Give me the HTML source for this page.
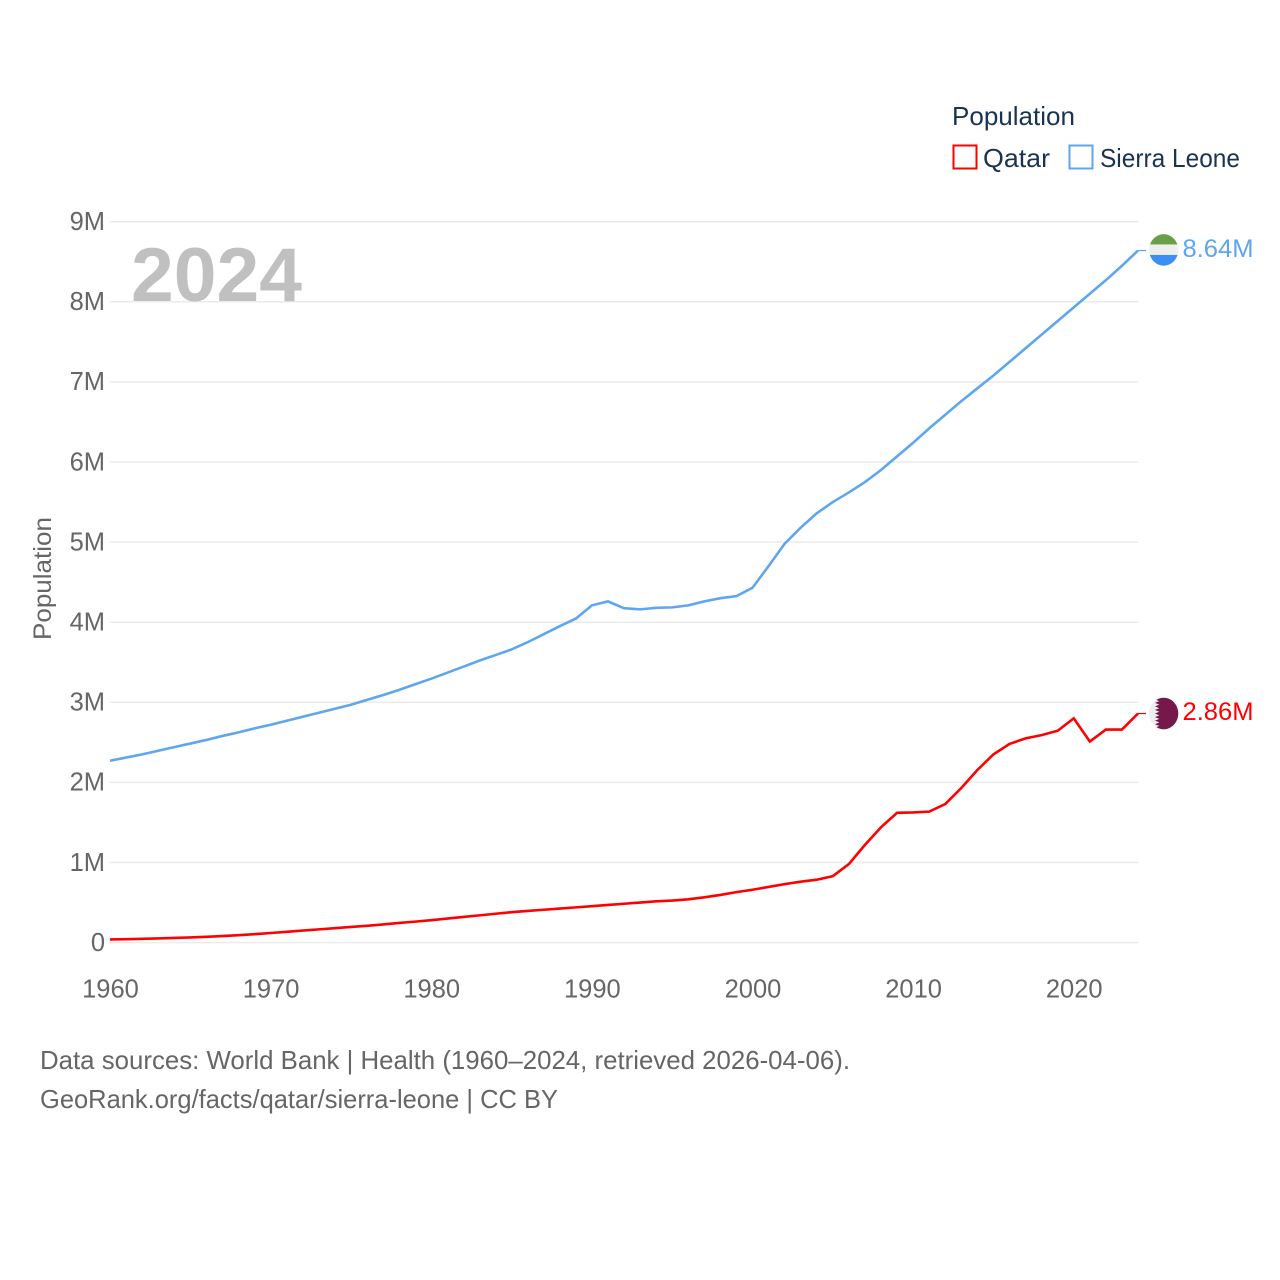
<!DOCTYPE html>
<html lang="en">
<head>
<meta charset="utf-8">
<title>Population: Qatar and Sierra Leone</title>
<style>
html,body{margin:0;padding:0;background:#fff;width:1280px;height:1280px;overflow:hidden}
svg{display:block}
text{font-family:"Liberation Sans",sans-serif}
</style>
</head>
<body>
<svg id="chart" xmlns="http://www.w3.org/2000/svg" width="1280" height="1280" viewBox="0 0 1280 1280">
  <rect x="0" y="0" width="1280" height="1280" fill="#ffffff"/>
  <defs>
    <clipPath id="flag-clip"><ellipse cx="0" cy="0" rx="14.6" ry="15.8"/></clipPath>
  </defs>
  <g id="grid"></g>
  <g id="y-ticks"></g>
  <g id="x-ticks"></g>
  <text x="131" y="301" font-size="76" font-weight="700" fill="#c0c0c0" textLength="171" lengthAdjust="spacingAndGlyphs">2024</text>
  <text transform="translate(51,640) rotate(-90)" font-size="25" fill="#666666" textLength="123" lengthAdjust="spacingAndGlyphs">Population</text>
  <g id="series"></g>

  <g id="flag-sierra-leone" clip-path="url(#flag-clip)">
    <rect x="-16" y="-17" width="32" height="12" fill="#6a9f4a"/>
    <rect x="-16" y="-5.5" width="32" height="11" fill="#eeeeee"/>
    <rect x="-16" y="5" width="32" height="12" fill="#3a8ff0"/>
  </g>
  <g id="flag-qatar" clip-path="url(#flag-clip)">
    <rect x="-16" y="-17" width="32" height="34" fill="#eeeeee"/>
    <polygon fill="#75184a" points="16,-16 -4.4,-16 -8.7,-14.2 -4.4,-12.4 -8.7,-10.7 -4.4,-8.9 -8.7,-7.1 -4.4,-5.3 -8.7,-3.6 -4.4,-1.8 -8.7,0 -4.4,1.8 -8.7,3.6 -4.4,5.3 -8.7,7.1 -4.4,8.9 -8.7,10.7 -4.4,12.4 -8.7,14.2 -4.4,16 16,16"/>
  </g>
  <g id="end-labels"></g>

  <g>
    <text x="952" y="125" font-size="26" fill="#1a3353" textLength="123" lengthAdjust="spacingAndGlyphs">Population</text>
    <g>
      <rect x="953.5" y="145.5" width="23" height="23" fill="none" stroke="#ff0000" stroke-width="2"/>
      <text x="983" y="167" font-size="26" fill="#1a3353" textLength="67" lengthAdjust="spacingAndGlyphs">Qatar</text>
    </g>
    <g>
      <rect x="1069.5" y="145.5" width="23" height="23" fill="none" stroke="#5ea6ee" stroke-width="2"/>
      <text x="1100" y="167" font-size="26" fill="#1a3353" textLength="140" lengthAdjust="spacingAndGlyphs">Sierra Leone</text>
    </g>
  </g>

  <g>
    <text x="40" y="1069" font-size="26" fill="#666666" textLength="810" lengthAdjust="spacingAndGlyphs">Data sources: World Bank | Health (1960–2024, retrieved 2026-04-06).</text>
    <text x="40" y="1108" font-size="26" fill="#666666" textLength="518" lengthAdjust="spacingAndGlyphs">GeoRank.org/facts/qatar/sierra-leone | CC BY</text>
  </g>
</svg>
<script>
const startYear = 1960;
const endYear = 2024;
const yTickValues = [0, 1, 2, 3, 4, 5, 6, 7, 8, 9];
const yTickLabels = ['0', '1M', '2M', '3M', '4M', '5M', '6M', '7M', '8M', '9M'];
const xTickYears = [1960, 1970, 1980, 1990, 2000, 2010, 2020];
const xTickLabels = ['1960', '1970', '1980', '1990', '2000', '2010', '2020'];

const qatarValues = [
  0.04, 0.043, 0.047, 0.052, 0.058, 0.065, 0.072, 0.081, 0.092, 0.105,
  0.12, 0.135, 0.15, 0.165, 0.18, 0.195, 0.21, 0.227, 0.245, 0.262,
  0.28, 0.30, 0.32, 0.34, 0.36, 0.38, 0.395, 0.41, 0.425, 0.44,
  0.455, 0.47, 0.485, 0.50, 0.515, 0.525, 0.54, 0.565, 0.595, 0.63,
  0.66, 0.695, 0.73, 0.76, 0.785, 0.83, 0.98, 1.22, 1.44, 1.62,
  1.625, 1.635, 1.73, 1.93, 2.155, 2.35, 2.48, 2.55, 2.59, 2.645,
  2.80, 2.51, 2.66, 2.66, 2.86
];
const sierraLeoneValues = [
  2.27, 2.31, 2.35, 2.395, 2.44, 2.485, 2.53, 2.58, 2.625, 2.675,
  2.72, 2.77, 2.82, 2.87, 2.92, 2.97, 3.03, 3.09, 3.155, 3.225,
  3.295, 3.37, 3.445, 3.52, 3.59, 3.66, 3.75, 3.85, 3.95, 4.045,
  4.21, 4.26, 4.175, 4.16, 4.18, 4.185, 4.21, 4.26, 4.30, 4.325,
  4.43, 4.70, 4.98, 5.18, 5.36, 5.50, 5.62, 5.75, 5.90, 6.07,
  6.24, 6.42, 6.59, 6.76, 6.92, 7.08, 7.25, 7.42, 7.59, 7.76,
  7.93, 8.10, 8.27, 8.45, 8.64
];
const qatarEndLabel = '2.86M';
const sierraLeoneEndLabel = '8.64M';

const SVG_NS = 'http://www.w3.org/2000/svg';
const xScale = function (year) {
  return 110 + (year - startYear) * (1138 - 110) / (endYear - startYear);
};
const yScale = function (value) {
  return 942.6 - value * 80.1;
};

const grid = document.getElementById('grid');
const yTicks = document.getElementById('y-ticks');
const xTicks = document.getElementById('x-ticks');
const series = document.getElementById('series');
const endLabels = document.getElementById('end-labels');

yTickValues.forEach(function (v, i) {
  const line = document.createElementNS(SVG_NS, 'line');
  
  
  line.setAttribute('x1', 110);
  line.setAttribute('x2', 1138.5);
  line.setAttribute('y1', yScale(v));
  line.setAttribute('y2', yScale(v));
  line.setAttribute('stroke', '#ebebeb');
  line.setAttribute('stroke-width', '1.5');
  grid.appendChild(line);

  const label = document.createElementNS(SVG_NS, 'text');
  
  
  label.setAttribute('x', 105);
  label.setAttribute('y', yScale(v) + 8.3);
  label.setAttribute('text-anchor', 'end');
  label.setAttribute('font-size', '25.5');
  label.setAttribute('fill', '#666666');
  label.textContent = yTickLabels[i];
  yTicks.appendChild(label);
});

xTickYears.forEach(function (year, i) {
  const label = document.createElementNS(SVG_NS, 'text');
  
  
  label.setAttribute('x', xScale(year) + 0.5);
  label.setAttribute('y', 997.5);
  label.setAttribute('text-anchor', 'middle');
  label.setAttribute('font-size', '25.5');
  label.setAttribute('fill', '#666666');
  label.textContent = xTickLabels[i];
  xTicks.appendChild(label);
});

function buildPoints(values) {
  return values.map(function (v, i) {
    return xScale(startYear + i).toFixed(2) + ',' + yScale(v).toFixed(2);
  }).join(' ');
}

const sierraLine = document.createElementNS(SVG_NS, 'polyline');


sierraLine.setAttribute('points', buildPoints(sierraLeoneValues));
sierraLine.setAttribute('fill', 'none');
sierraLine.setAttribute('stroke', '#5ea6ee');
sierraLine.setAttribute('stroke-width', '2.6');
series.appendChild(sierraLine);

const qatarLine = document.createElementNS(SVG_NS, 'polyline');


qatarLine.setAttribute('points', buildPoints(qatarValues));
qatarLine.setAttribute('fill', 'none');
qatarLine.setAttribute('stroke', '#ff0000');
qatarLine.setAttribute('stroke-width', '2.6');
series.appendChild(qatarLine);

const sierraLast = sierraLeoneValues[sierraLeoneValues.length - 1];
const qatarLast = qatarValues[qatarValues.length - 1];

const sierraLeader = document.createElementNS(SVG_NS, 'line');


sierraLeader.setAttribute('x1', 1138);
sierraLeader.setAttribute('x2', 1146);
sierraLeader.setAttribute('y1', yScale(sierraLast));
sierraLeader.setAttribute('y2', yScale(sierraLast));
sierraLeader.setAttribute('stroke', '#5ea6ee');
sierraLeader.setAttribute('stroke-width', '1.2');
series.appendChild(sierraLeader);

const qatarLeader = document.createElementNS(SVG_NS, 'line');


qatarLeader.setAttribute('x1', 1138);
qatarLeader.setAttribute('x2', 1146);
qatarLeader.setAttribute('y1', yScale(qatarLast));
qatarLeader.setAttribute('y2', yScale(qatarLast));
qatarLeader.setAttribute('stroke', '#ff0000');
qatarLeader.setAttribute('stroke-width', '1.2');
series.appendChild(qatarLeader);

document.getElementById('flag-sierra-leone').setAttribute('transform', 'translate(1163.7,' + (yScale(sierraLast) - 0.6) + ')');
document.getElementById('flag-qatar').setAttribute('transform', 'translate(1163.7,' + yScale(qatarLast) + ')');

const sierraLabel = document.createElementNS(SVG_NS, 'text');


sierraLabel.setAttribute('x', 1182.5);
sierraLabel.setAttribute('y', yScale(sierraLast) + 6.3);
sierraLabel.setAttribute('font-size', '25');
sierraLabel.setAttribute('fill', '#5ea6ee');
sierraLabel.setAttribute('textLength', '71');
sierraLabel.setAttribute('lengthAdjust', 'spacingAndGlyphs');
sierraLabel.textContent = sierraLeoneEndLabel;
endLabels.appendChild(sierraLabel);

const qatarLabel = document.createElementNS(SVG_NS, 'text');


qatarLabel.setAttribute('x', 1182.5);
qatarLabel.setAttribute('y', yScale(qatarLast) + 6.5);
qatarLabel.setAttribute('font-size', '25');
qatarLabel.setAttribute('fill', '#ff0000');
qatarLabel.setAttribute('textLength', '71');
qatarLabel.setAttribute('lengthAdjust', 'spacingAndGlyphs');
qatarLabel.textContent = qatarEndLabel;
endLabels.appendChild(qatarLabel);
</script>
</body>
</html>
